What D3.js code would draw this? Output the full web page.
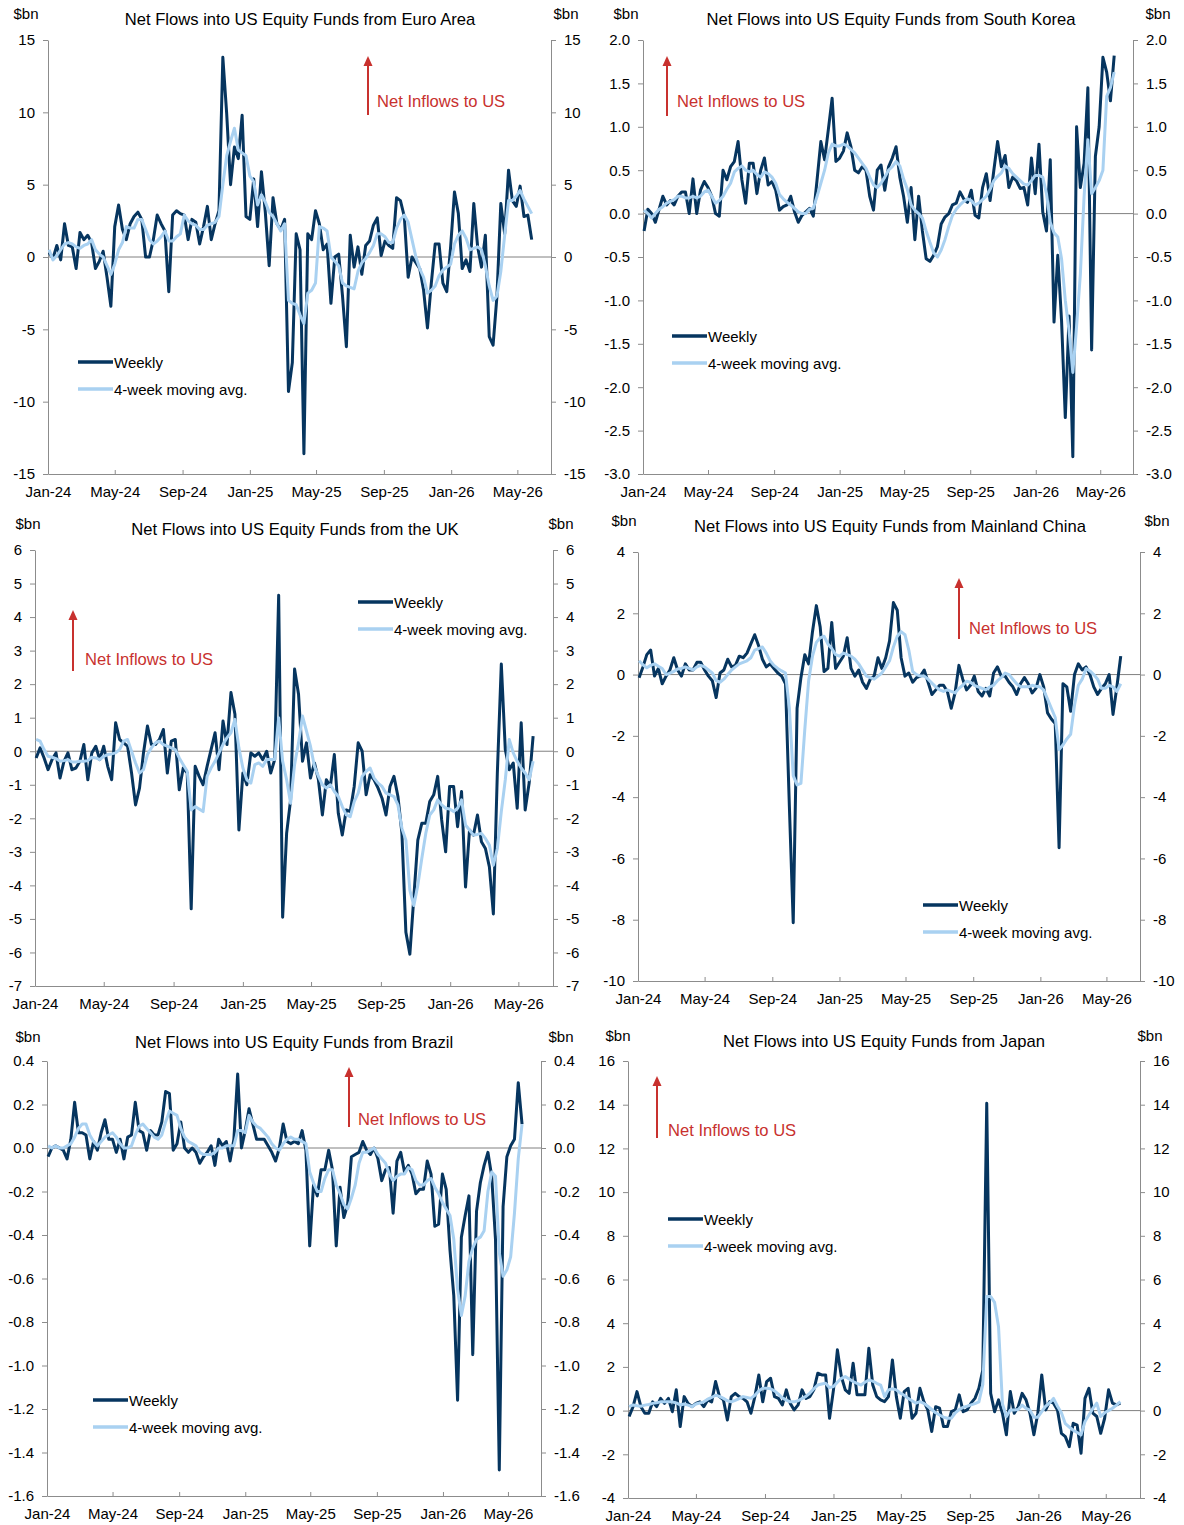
<!DOCTYPE html>
<html>
<head>
<meta charset="utf-8">
<script src="https://cdn.jsdelivr.net/npm/d3@7"></script>
<style>
  body { margin: 0; background: #fff; }
  svg { display: block; font-family: "Liberation Sans", Arial, sans-serif; }
</style>
</head>
<body>
<svg id="chart" width="1184" height="1525"></svg>
<script>
// weekly observations, first one dated 3 Jan 2024
const firstWeek = new Date(2024, 0, 3);
const monthLabels = ["Jan-24", "May-24", "Sep-24", "Jan-25", "May-25", "Sep-25", "Jan-26", "May-26"];
const monthStarts = [new Date(2024, 0, 1), new Date(2024, 4, 1), new Date(2024, 8, 1), new Date(2025, 0, 1),
                     new Date(2025, 4, 1), new Date(2025, 8, 1), new Date(2026, 0, 1), new Date(2026, 4, 1)];

// Euro Area, $bn
const euroWeekly = [0.3, -0.1, 0.8, -0.2, 2.3, 0.8, 0.7, -0.8, 1.7, 1.2, 1.5, 1.0, -0.8, -0.3, 0.4, -1.4,
  -3.4, 2.1, 3.6, 1.9, 1.2, 2.3, 2.8, 3.1, 2.6, 0.0, 0.0, 1.2, 2.9, 2.3, 1.8, -2.4,
  2.9, 3.2, 3.0, 2.9, 1.2, 2.6, 2.4, 0.9, 2.1, 3.5, 1.2, 2.3, 3.2, 13.8, 9.9, 5.0,
  7.6, 6.8, 9.8, 2.8, 2.6, 5.4, 2.1, 5.9, 3.1, -0.6, 4.1, 2.3, 1.9, 2.6, -9.3, -7.3,
  1.6, 0.5, -13.6, 1.6, 1.2, 3.2, 2.3, 0.5, 0.9, -3.2, 0.0, 0.2, -2.7, -6.2, 1.5, -0.7,
  0.7, -1.2, 0.8, 1.1, 2.2, 2.7, 0.1, 1.1, 0.8, 0.6, 4.1, 3.9, 2.8, -1.4, 0.0, -0.4,
  -0.8, -2.3, -4.9, -1.8, 0.9, 0.9, -1.8, -2.4, 0.7, 4.5, 3.0, -0.8, -0.2, -1.0, 3.7, 0.7,
  -0.7, 1.5, -5.5, -6.1, -2.7, 3.7, 1.6, 6.0, 3.9, 3.5, 4.9, 2.8, 2.9, 1.2];
const euroAvg = [0.5, -0.2, 0.1, 0.5, 0.9, 1.0, 0.9, 0.7, 0.6, 0.8, 0.9, 1.2, 0.5, 0.2, 0.0, -0.6,
  -1.2, -0.5, 0.5, 1.0, 2.1, 2.0, 2.0, 2.6, 2.6, 1.9, 1.2, 0.9, 1.1, 1.4, 1.8, 1.1,
  1.1, 1.4, 1.6, 2.9, 2.5, 2.3, 2.2, 1.9, 1.9, 2.2, 2.3, 2.4, 2.8, 5.0, 7.0, 8.0,
  8.9, 7.4, 7.2, 7.0, 5.6, 5.2, 3.6, 4.3, 3.8, 3.1, 2.8, 2.3, 1.8, 2.3, -3.0, -3.2,
  -3.3, -4.0, -4.6, -2.5, -2.3, -1.8, 2.1, 2.0, 1.8, 0.0, -0.3, -0.6, -1.8, -2.0, -2.1, -2.2,
  -1.0, -0.4, -0.1, 0.3, 0.8, 1.6, 1.6, 1.4, 1.0, 1.0, 2.0, 2.6, 2.9, 2.4, 1.2, 0.0,
  -0.8, -1.4, -2.5, -2.3, -2.0, -1.3, -0.9, -0.7, -0.5, 0.9, 1.5, 1.8, 1.3, 0.5, 0.6, 0.7,
  0.5, -0.6, -2.0, -3.0, -2.7, -1.0, 1.5, 3.9, 3.9, 4.2, 4.6, 4.0, 3.5, 3.0];
const euroTicks = [-15, -10, -5, 0, 5, 10, 15];

// South Korea, $bn
const koreaWeekly = [-0.2, 0.05, 0.0, -0.1, 0.05, 0.2, 0.1, 0.15, 0.1, 0.2, 0.25, 0.25, 0.0, 0.4, 0.0, 0.27, 0.37, 0.3, 0.2, 0.0, -0.03,
  0.5, 0.39, 0.54, 0.6, 0.83, 0.39, 0.12, 0.58, 0.58, 0.23, 0.5, 0.64, 0.33, 0.37, 0.27, 0.04, 0.08, 0.1, 0.2, 0.02,
  -0.1, -0.02, 0.02, 0.06, -0.03, 0.39, 0.83, 0.62, 0.97, 1.33, 0.6, 0.64, 0.72, 0.93, 0.77, 0.5, 0.47, 0.54, 0.5, 0.2,
  0.04, 0.5, 0.56, 0.27, 0.54, 0.64,
  0.77, 0.42, 0.2, -0.1, 0.3, -0.3, 0.2, -0.2, -0.52, -0.55, -0.48, -0.38, -0.12, -0.04, 0.0, 0.1, 0.12, 0.25, 0.17, 0.13,
  0.27, -0.02, -0.05, 0.3, 0.46, 0.15, 0.5, 0.83, 0.54, 0.67, 0.3, 0.42, 0.38, 0.29, 0.3, 0.1, 0.64, 0.23, 0.8, 0.02,
  -0.2, 0.62, -1.25, -0.48, -1.23, -2.35, -1.18,
  -2.8, 1.0, 0.3, 0.58, 1.45, -1.57, 0.66, 1.0, 1.8, 1.63, 1.3, 1.82];
const koreaAvg = [0.04, 0.0, -0.05, 0.0, 0.05, 0.08, 0.12, 0.14, 0.16, 0.2, 0.2, 0.18, 0.18, 0.2, 0.18, 0.2, 0.25, 0.27, 0.2, 0.12,
  0.15, 0.2, 0.28, 0.35, 0.48, 0.52, 0.55, 0.5, 0.48, 0.5, 0.45, 0.42, 0.48, 0.46, 0.42, 0.35, 0.22, 0.17, 0.13, 0.1,
  0.06, 0.02, 0.0, 0.0, 0.05, 0.06, 0.2, 0.35, 0.5, 0.7, 0.8, 0.78, 0.78, 0.8, 0.78, 0.74, 0.7, 0.64, 0.58, 0.52,
  0.42, 0.33, 0.3, 0.35, 0.42, 0.5, 0.54, 0.6, 0.55, 0.4, 0.28, 0.1, 0.04, 0.0, -0.05, -0.2, -0.33, -0.45, -0.5, -0.42,
  -0.3, -0.15, -0.02, 0.05, 0.1, 0.14, 0.17, 0.15, 0.1, 0.12, 0.16, 0.2, 0.28, 0.38, 0.43, 0.47, 0.55, 0.52, 0.46, 0.42,
  0.38, 0.34, 0.33, 0.38, 0.44, 0.44, 0.42, 0.23, -0.1, -0.22, -0.27, -0.52, -1.0, -1.35, -1.83, -1.3, -0.7, 0.2, 0.85, 0.23,
  0.3, 0.38, 0.5, 1.35, 1.45, 1.63];
const koreaTicks = [-3.0, -2.5, -2.0, -1.5, -1.0, -0.5, 0.0, 0.5, 1.0, 1.5, 2.0];

// UK, $bn
const ukWeekly = [-0.2, 0.1, -0.2, -0.55, -0.25, -0.05, -0.8, -0.3, -0.05, -0.55,
  -0.5, -0.3, 0.2, -0.85, -0.05, 0.15, -0.25, 0.15, -0.45, -0.85,
  0.85, 0.35, 0.25, 0.15, -0.65, -1.6, -1.1, -0.05, 0.75, 0.2,
  0.2, 0.35, 0.65, -0.65, 0.3, 0.35, -1.15, -0.5, -0.65, -4.7,
  -0.45, -0.75, -1.0, -0.45, 0.05, 0.55, -0.55, 0.9, 0.2, 1.75,
  1.1, -2.35, -0.65, -1.0, -0.05, -0.15, -0.05, -0.25, 0.0, -0.65,
  -0.25, 4.65,
  -4.95, -2.45, -1.45, 2.45, 1.7, -0.3, 0.25, -0.8, -0.35, -0.85,
  -1.9, -0.85, -1.05, -0.1, -1.85, -2.5, -1.75, -1.8, -1.05, 0.25,
  0.0, -1.3, -0.7, -0.85, -1.1, -1.4, -1.9, -1.05, -0.75, -1.35,
  -2.45, -5.4, -6.05, -4.35, -2.65, -2.15, -2.15, -1.5, -1.3, -0.75,
  -2.05, -3.0, -1.05, -1.05, -2.25, -1.2, -4.05, -2.35, -2.5, -1.9,
  -2.7, -2.9, -3.45, -4.85, -0.65, 2.6, 0.05, -0.55, -0.35, -1.7,
  0.85, -1.75, -0.95, 0.45];
const ukAvg = [0.35, 0.3, 0.05, -0.15, -0.18, -0.22, -0.3, -0.28, -0.25, -0.32,
  -0.32, -0.3, -0.3, -0.28, -0.18, -0.2, -0.25, -0.15, -0.1, -0.08,
  -0.05, 0.05, 0.3, 0.35, 0.0, -0.35, -0.65, -0.55, -0.1, 0.1,
  0.25, 0.3, 0.2, 0.15, 0.1, 0.05, -0.2, -0.4, -0.6, -1.75,
  -1.65, -1.72, -1.8, -0.75, -0.5, -0.3, -0.05, 0.2, 0.4, 0.55,
  0.95, 0.1, -0.5, -0.85, -0.95, -0.4, -0.35, -0.45, -0.25, -0.25,
  -0.25, 1.0,
  -0.3, -0.85, -1.55, -0.4, 0.25, 1.05, 0.6, 0.15, -0.45, -0.75,
  -1.0, -1.1, -1.0, -1.2, -1.35, -1.65, -1.9, -1.95, -1.5, -1.25,
  -0.75, -0.6, -0.5, -0.8, -0.95, -1.05, -1.25, -1.3, -1.35, -1.6,
  -2.3, -2.65, -4.15, -4.6, -4.0, -3.2, -2.45, -1.9, -1.75, -1.45,
  -1.6, -1.7, -1.72, -1.8, -1.7, -1.45, -2.2, -2.35, -2.5, -2.48,
  -2.45, -2.6, -2.8, -3.4, -2.9, -1.8, -0.85, 0.35, -0.05, -0.3,
  -0.5, -0.65, -0.85, -0.3];
const ukTicks = [-7, -6, -5, -4, -3, -2, -1, 0, 1, 2, 3, 4, 5, 6];

// Mainland China, $bn
const chinaWeekly = [-0.1, 0.25, 0.65, 0.8, -0.05, 0.2, -0.3, -0.05, 0.15, 0.55,
  0.15, -0.05, 0.35, 0.15, 0.15, 0.4, 0.4, 0.15, -0.05, -0.2,
  -0.75, 0.05, 0.15, 0.5, 0.25, 0.3, 0.6, 0.55, 0.7, 1.0,
  1.3, 0.95, 0.5, 0.25, 0.35, 0.2, 0.05, -0.05, -0.3, -4.3,
  -8.1, -1.1, -0.1, 0.65, 0.35, 1.4, 2.25, 1.55, 0.1, 0.2,
  1.7, 0.2, 0.4, 0.6, 1.2, 0.2, -0.05, 0.15, -0.25, -0.45,
  -0.15, -0.05, 0.55, 0.2, 0.55, 1.1,
  2.35, 2.1, 0.55, -0.05, 0.05, -0.25, -0.1, -0.05, 0.15, -0.25,
  -0.65, -0.5, -0.35, -0.35, -0.55, -1.1, -0.6, 0.3, -0.15, -0.5,
  -0.35, -0.05, -0.55, -0.7, -0.45, -0.7, 0.05, 0.25, -0.05, -0.05,
  -0.25, -0.4, -0.65, -0.3, -0.1, -0.3, -0.6, -0.45, 0.0, -0.4,
  -1.25, -1.45, -1.6, -5.65, -0.3, -0.4, -1.2, 0.0, 0.35, 0.15,
  0.25, 0.0, -0.4, -0.65, -0.45, -0.3, 0.0, -1.3, -0.4, 0.6];
const chinaAvg = [0.45, 0.32, 0.22, 0.3, 0.35, 0.27, 0.2, 0.0, 0.05, 0.1, 0.18, 0.2, 0.25, 0.2, 0.15, 0.25, 0.3, 0.25, 0.15, 0.05,
  -0.2, -0.25, -0.15, 0.0, 0.15, 0.25, 0.35, 0.4, 0.45, 0.55, 0.8, 0.85, 0.9, 0.7, 0.45, 0.3, 0.2, 0.12, 0.05, -1.1,
  -3.3, -3.6, -3.55, -1.8, -0.2, 0.6, 1.05, 1.2, 1.25, 1.0, 0.85, 0.65, 0.6, 0.7, 0.65, 0.6, 0.5, 0.35, 0.15, -0.05,
  -0.1, -0.15, -0.05, 0.05, 0.25, 0.45, 0.9, 1.25, 1.4, 1.3, 0.8, 0.1, 0.0, -0.05, -0.05, -0.15, -0.28, -0.4, -0.5, -0.55,
  -0.5, -0.55, -0.6, -0.45, -0.35, -0.22, -0.25, -0.35, -0.4, -0.45, -0.5, -0.4, -0.35, -0.2, -0.1, 0.05, 0.0, -0.15, -0.3, -0.4,
  -0.4, -0.4, -0.35, -0.38, -0.4, -0.5, -0.8, -1.1, -1.4, -2.45, -2.3, -2.1, -1.95, -1.0, -0.35, -0.15, 0.2, 0.12, 0.0, -0.15,
  -0.45, -0.45, -0.35, -0.4, -0.55, -0.3];
const chinaTicks = [-10, -8, -6, -4, -2, 0, 2, 4];

// Brazil, $bn
const brazilWeekly = [-0.04, 0.0, 0.01, 0.0, -0.01, -0.05, 0.04, 0.21, 0.07, 0.07,
  0.06, -0.05, 0.03, -0.01, 0.07, 0.13, 0.04, 0.04, -0.02, 0.04,
  -0.05, 0.05, 0.06, 0.21, 0.08, 0.07, -0.01, 0.08, 0.06, 0.06,
  0.12, 0.26, 0.25, -0.01, 0.02, 0.12, 0.0, -0.02, 0.0, -0.02,
  -0.07, -0.04, -0.02, 0.01, -0.08, 0.04, 0.01, 0.03, -0.06, 0.04,
  0.34, 0.0, 0.08, 0.18, 0.11, 0.04, 0.04, 0.04, 0.01, -0.02,
  -0.06, 0.0, 0.11, 0.03, 0.02, 0.03,
  0.02, 0.08, -0.01, -0.45, -0.17, -0.22, -0.1, -0.1, -0.01, -0.1,
  -0.45, -0.18, -0.32, -0.26, -0.04, -0.03, -0.02, 0.03, -0.01, -0.03,
  0.0, -0.05, -0.15, -0.1, -0.09, -0.3, -0.06, -0.02, -0.11, -0.08,
  -0.12, -0.21, -0.19, -0.19, -0.06, -0.12, -0.36, -0.35, -0.12, -0.19,
  -0.47, -0.68, -1.16, -0.41, -0.31, -0.22, -0.95, -0.29, -0.16, -0.08,
  -0.02, -0.13, -0.42, -1.48, -0.27, -0.04, 0.01, 0.04, 0.3, 0.11];
const brazilAvg = [0.01, 0.0, 0.01, 0.0, 0.0, 0.01, 0.02, 0.05, 0.09, 0.11, 0.11, 0.06, 0.03, 0.01, 0.03, 0.05, 0.06, 0.07, 0.05, 0.02,
  0.0, 0.0, 0.01, 0.06, 0.1, 0.11, 0.09, 0.07, 0.05, 0.04, 0.06, 0.12, 0.17, 0.16, 0.15, 0.09, 0.05, 0.03, 0.02, 0.01,
  -0.02, -0.03, -0.03, -0.03, -0.02, 0.0, 0.0, 0.01, 0.01, 0.01, 0.08, 0.08, 0.07, 0.15, 0.12, 0.1, 0.09, 0.07, 0.05, 0.02,
  0.0, -0.01, 0.02, 0.04, 0.05, 0.04, 0.04, 0.03, 0.02, -0.11, -0.16, -0.2, -0.2, -0.14, -0.1, -0.1, -0.17, -0.21, -0.26, -0.28,
  -0.23, -0.17, -0.07, -0.02, -0.02, -0.01, 0.0, -0.03, -0.05, -0.07, -0.12, -0.15, -0.13, -0.12, -0.12, -0.09, -0.1, -0.15, -0.17, -0.17,
  -0.15, -0.14, -0.18, -0.21, -0.25, -0.28, -0.31, -0.42, -0.65, -0.77, -0.68, -0.52, -0.46, -0.42, -0.41, -0.38, -0.2, -0.11, -0.13, -0.48,
  -0.59, -0.56, -0.5, -0.3, -0.05, 0.11];
const brazilTicks = [-1.6, -1.4, -1.2, -1.0, -0.8, -0.6, -0.4, -0.2, 0.0, 0.2, 0.4];

// Japan, $bn
const japanWeekly = [-0.27, 0.18, 0.87, 0.18, -0.12, -0.12, 0.4, 0.18, 0.56, 0.33,
  0.56, -0.05, 0.95, -0.73, 0.64, 0.33, 0.18, 0.33, 0.4, 0.18,
  0.49, 0.4, 1.33, 0.64, 0.49, -0.43, 0.64, 0.79, 0.64, 0.56,
  0.4, -0.12, 0.64, 1.63, 0.4, 1.33, 1.48, 0.64, 0.56, 0.26,
  0.95, 0.33, 0.03, 0.26, 0.95, 0.56, 0.64, 0.95, 1.71, 1.63,
  1.63, -0.35, 0.95, 2.78, 1.56, 0.95, 0.79, 2.17, 0.72, 0.72, 0.72,
  2.85, 1.17, 0.64, 0.49, 0.41, 0.64, 2.32, 0.64, -0.35, 0.87,
  1.02, -0.35, -0.12, 1.02, 0.41, 0.03, -0.96, 0.18, 0.11, -0.73,
  -0.73, -0.05, 0.03, 0.72, -0.05, 0.03, 0.34, 0.56, 1.02, 1.86,
  14.07, 0.79, -0.05, 0.49, -0.12, -1.11, 0.87, -0.12, 0.18, 0.79,
  0.49, -0.12, -1.11, -0.12, 1.63, 0.03, 0.41, 0.34, 0.03, -1.04,
  -1.19, -1.65, -0.58, -0.66, -1.95, 0.56, 1.02, -0.12, -0.27, -1.04,
  -0.35, 0.95, 0.34, 0.26, 0.34];
const japanAvg = [0.18, 0.26, 0.22, 0.2, 0.25, 0.28, 0.33, 0.36, 0.4, 0.4, 0.4, 0.4, 0.35, 0.26, 0.3, 0.25, 0.18, 0.3, 0.35, 0.4,
  0.52, 0.6, 0.7, 0.65, 0.56, 0.45, 0.4, 0.47, 0.55, 0.64, 0.6, 0.56, 0.7, 0.9, 1.02, 1.02, 1.0, 0.9, 0.75, 0.58,
  0.48, 0.4, 0.4, 0.45, 0.55, 0.65, 0.8, 1.0, 1.17, 1.22, 1.25, 1.05, 1.1, 1.3, 1.48, 1.56, 1.45, 1.33, 1.25, 1.17, 1.3,
  1.4, 1.35, 1.25, 1.17, 0.64, 0.95, 1.0, 0.95, 0.8, 0.7, 0.56, 0.45, 0.34, 0.41, 0.33, 0.2, 0.05, -0.1, -0.2, -0.3,
  -0.35, -0.35, -0.1, 0.05, 0.15, 0.2, 0.26, 0.32, 0.4, 1.2, 5.22, 5.22, 4.95, 3.84, 0.3, -0.27, 0.03, 0.03, 0.05, 0.25,
  0.1, 0.02, -0.3, -0.3, -0.05, 0.2, 0.35, 0.56, 0.2, -0.1, -0.6, -0.75, -0.9, -1.0, -1.11, -0.5, -0.2, 0.1, 0.34, -0.27,
  -0.1, 0.0, 0.11, 0.25, 0.41];
const japanTicks = [-4, -2, 0, 2, 4, 6, 8, 10, 12, 14, 16];

const darkBlue = "#06355f";
const lightBlue = "#a9d1f1";
const noteRed = "#c8312e";
const axisGrey = "#8c8c8c";

// layout of each panel (plot box = left, top, right, bottom)
const panels = [
  { title: "Net Flows into US Equity Funds from Euro Area", weekly: euroWeekly, avg: euroAvg, ticks: euroTicks, dec: 0,
    box: [48, 40, 551, 474], titleAt: [300, 19], bn: [26, 566, 13], arrow: [368, 56, 115], note: [377, 101], legend: [78, 362] },
  { title: "Net Flows into US Equity Funds from South Korea", weekly: koreaWeekly, avg: koreaAvg, ticks: koreaTicks, dec: 1,
    box: [643, 40, 1133, 474], titleAt: [891, 19], bn: [626, 1158, 13], arrow: [667, 56, 116], note: [677, 101], legend: [672, 336] },
  { title: "Net Flows into US Equity Funds from the UK", weekly: ukWeekly, avg: ukAvg, ticks: ukTicks, dec: 0,
    box: [35, 550, 553, 986], titleAt: [295, 529], bn: [28, 561, 523], arrow: [73, 610, 671], note: [85, 659], legend: [358, 602] },
  { title: "Net Flows into US Equity Funds from Mainland China", weekly: chinaWeekly, avg: chinaAvg, ticks: chinaTicks, dec: 0,
    box: [638, 552, 1140, 981], titleAt: [890, 526], bn: [624, 1157, 520], arrow: [959, 578, 639], note: [969, 628], legend: [923, 905] },
  { title: "Net Flows into US Equity Funds from Brazil", weekly: brazilWeekly, avg: brazilAvg, ticks: brazilTicks, dec: 1,
    box: [47, 1061, 541, 1496], titleAt: [294, 1042], bn: [28, 561, 1036], arrow: [349, 1067, 1127], note: [358, 1119], legend: [93, 1400] },
  { title: "Net Flows into US Equity Funds from Japan", weekly: japanWeekly, avg: japanAvg, ticks: japanTicks, dec: 0,
    box: [628, 1061, 1140, 1498], titleAt: [884, 1041], bn: [618, 1150, 1035], arrow: [657, 1076, 1138], note: [668, 1130], legend: [668, 1219] }
];

const svg = d3.select("#chart");
svg.append("rect").attr("width", 1184).attr("height", 1525).attr("fill", "#fff");

function styleAxis(g) {
  g.selectAll("path.domain").attr("stroke", axisGrey);
  g.selectAll(".tick line").attr("stroke", axisGrey);
  g.selectAll(".tick text").attr("fill", "#000").style("font-size", "15px")
    .style("font-family", '"Liberation Sans", Arial, sans-serif');
}

function drawPanel(p) {
  const [l, t, r, b] = p.box;
  const weeks = p.weekly.map((v, i) => d3.timeDay.offset(firstWeek, 7 * i));
  const x = d3.scaleTime().domain([new Date(2024, 0, 1), new Date(2026, 6, 1)]).range([l, r]);
  const y = d3.scaleLinear().domain(d3.extent(p.ticks)).range([b, t]);
  const fmt = v => v.toFixed(p.dec);
  const g = svg.append("g");

  // zero line
  g.append("line")
    .attr("x1", l).attr("x2", r)
    .attr("y1", y(0)).attr("y2", y(0))
    .attr("stroke", "#808080").attr("stroke-width", 1);

  g.append("g").attr("transform", `translate(${l},0)`)
    .call(d3.axisLeft(y).tickValues(p.ticks).tickFormat(fmt).tickSizeInner(5).tickSizeOuter(0).tickPadding(8))
    .call(styleAxis);
  g.append("g").attr("transform", `translate(${r},0)`)
    .call(d3.axisRight(y).tickValues(p.ticks).tickFormat(fmt).tickSizeInner(5).tickSizeOuter(0).tickPadding(8))
    .call(styleAxis);
  g.append("g").attr("transform", `translate(0,${b})`)
    .call(d3.axisBottom(x).tickValues(monthStarts).tickFormat((d, i) => monthLabels[i])
      .tickSizeInner(-4).tickSizeOuter(0).tickPadding(12))
    .call(styleAxis);

  const line = d3.line().x((d, i) => x(weeks[i])).y(d => y(d));
  g.append("path").datum(p.weekly).attr("d", line)
    .attr("fill", "none").attr("stroke", darkBlue).attr("stroke-width", 3).attr("stroke-linejoin", "round");
  g.append("path").datum(p.avg).attr("d", line)
    .attr("fill", "none").attr("stroke", lightBlue).attr("stroke-width", 3).attr("stroke-linejoin", "round");

  // title and units
  g.append("text").attr("x", p.titleAt[0]).attr("y", p.titleAt[1])
    .attr("text-anchor", "middle").attr("dominant-baseline", "central")
    .style("font-size", "16.6px").text(p.title);
  [p.bn[0], p.bn[1]].forEach(bx => {
    g.append("text").attr("x", bx).attr("y", p.bn[2])
      .attr("text-anchor", "middle").attr("dominant-baseline", "central")
      .style("font-size", "15px").text("$bn");
  });

  // "Net Inflows to US" arrow
  const [ax, tip, base] = p.arrow;
  g.append("line").attr("x1", ax).attr("x2", ax).attr("y1", base).attr("y2", tip + 8)
    .attr("stroke", noteRed).attr("stroke-width", 2);
  g.append("path").attr("d", `M${ax},${tip} L${ax - 4.5},${tip + 10} L${ax + 4.5},${tip + 10} Z`).attr("fill", noteRed);
  g.append("text").attr("x", p.note[0]).attr("y", p.note[1])
    .attr("dominant-baseline", "central").attr("fill", noteRed)
    .style("font-size", "16.6px").text("Net Inflows to US");

  // legend
  const [lx, ly] = p.legend;
  const items = [{ name: "Weekly", color: darkBlue }, { name: "4-week moving avg.", color: lightBlue }];
  items.forEach((it, k) => {
    const yy = ly + k * 27;
    g.append("line").attr("x1", lx).attr("x2", lx + 35).attr("y1", yy).attr("y2", yy)
      .attr("stroke", it.color).attr("stroke-width", 3.5);
    g.append("text").attr("x", lx + 36).attr("y", yy)
      .attr("dominant-baseline", "central").style("font-size", "15px").text(it.name);
  });
}

panels.forEach(drawPanel);
</script>
</body>
</html>
